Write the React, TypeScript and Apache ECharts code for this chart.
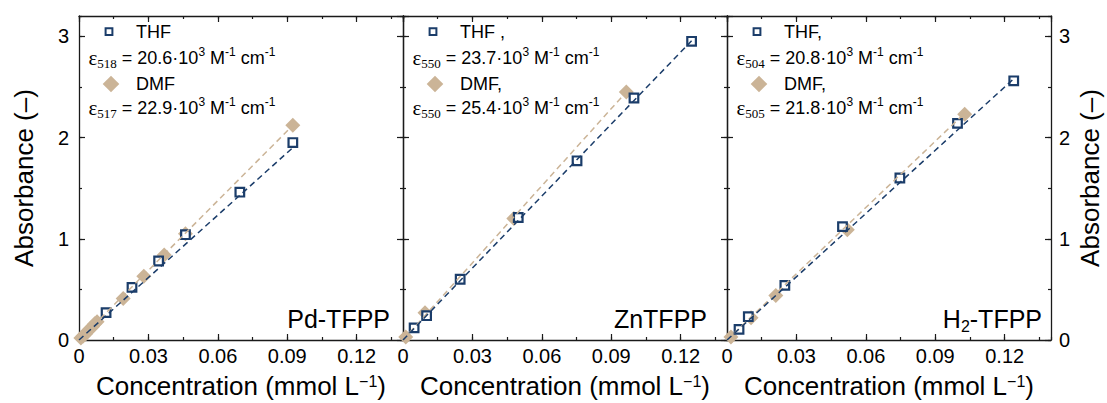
import React, { useEffect, useRef } from "react";
import * as echarts from "echarts";

// ---------- data ----------
const panelNames = ["Pd-TFPP", "ZnTFPP", "H2-TFPP"];
const thfLabels = ["THF", "THF ,", "THF,"];
const dmfLabels = ["DMF", "DMF,", "DMF,"];
const thfLambda = ["518", "550", "504"];
const dmfLambda = ["517", "550", "505"];
const thfEps = ["20.6", "23.7", "20.8"];
const dmfEps = ["22.9", "25.4", "21.8"];

// Pd-TFPP
const pdThfX = [0.0117, 0.0229, 0.0344, 0.046, 0.0695, 0.0924];
const pdThfY = [0.27, 0.52, 0.78, 1.04, 1.46, 1.95];
const pdDmfX = [0.0008, 0.0018, 0.0028, 0.0038, 0.0048, 0.0058, 0.0068, 0.0078, 0.0191, 0.028, 0.0368, 0.046, 0.0924];
const pdDmfY = [0.02, 0.04, 0.06, 0.09, 0.11, 0.13, 0.16, 0.18, 0.41, 0.63, 0.84, 1.05, 2.12];
const pdThfFit = [[0, 0], [0.0924, 1.9]];
const pdDmfFit = [[0, 0], [0.0924, 2.12]];

// ZnTFPP
const znThfX = [0.0048, 0.0102, 0.0247, 0.0498, 0.0752, 0.0998, 0.1247];
const znThfY = [0.12, 0.24, 0.6, 1.21, 1.77, 2.39, 2.95];
const znDmfX = [0.0012, 0.0095, 0.0479, 0.0965];
const znDmfY = [0.03, 0.27, 1.2, 2.45];
const znThfFit = [[0, 0], [0.1247, 2.955]];
const znDmfFit = [[0, 0], [0.0965, 2.45]];

// H2-TFPP
const h2ThfX = [0.0052, 0.0092, 0.025, 0.0499, 0.0747, 0.0996, 0.1239];
const h2ThfY = [0.105, 0.23, 0.54, 1.12, 1.6, 2.14, 2.56];
const h2DmfX = [0.0017, 0.0104, 0.0211, 0.052, 0.1027];
const h2DmfY = [0.03, 0.22, 0.44, 1.09, 2.23];
const h2ThfFit = [[0, 0], [0.1239, 2.58]];
const h2DmfFit = [[0, 0], [0.1027, 2.24]];

const thfX = [pdThfX, znThfX, h2ThfX];
const thfY = [pdThfY, znThfY, h2ThfY];
const dmfX = [pdDmfX, znDmfX, h2DmfX];
const dmfY = [pdDmfY, znDmfY, h2DmfY];
const thfFit = [pdThfFit, znThfFit, h2ThfFit];
const dmfFit = [pdDmfFit, znDmfFit, h2DmfFit];

const X_MIN = 0, X_MAX = 0.14, X_MAJOR = 0.03, X_MINOR = 0.015;
const Y_MIN = 0, Y_MAX = 3.2, Y_MAJOR = 1, Y_MINOR = 0.5;

// ---------- style ----------
const NAVY = "#1b3d6a";
const TAN = "#cbb497";
const SANS = "'Liberation Sans', Arial, sans-serif";
const SERIF = "'Liberation Serif', 'Times New Roman', serif";
const AXIS_COLOR = "#1a1a1a";

const GRID_LEFTS = [79, 403, 727];
const GRID_TOP = 16;
const GRID_W = 324;
const GRID_H = 324;

const zip = (xs: number[], ys: number[]) => xs.map((x, i) => [x, ys[i]]);

function buildOption() {
  const grid: any[] = [];
  const xAxis: any[] = [];
  const yAxis: any[] = [];
  const series: any[] = [];
  const graphic: any[] = [];

  const lineStyle = { color: AXIS_COLOR, width: 1.3 };

  for (let i = 0; i < 3; i++) {
    const left = GRID_LEFTS[i];
    grid.push({ left, top: GRID_TOP, width: GRID_W, height: GRID_H, outerBoundsMode: "none", containLabel: false });

    const xBase = (pos: string, major: boolean, labels: boolean) => ({
      type: "value",
      gridIndex: i,
      position: pos,
      min: X_MIN,
      max: X_MAX,
      interval: major ? X_MAJOR : X_MINOR,
      axisLine: { show: major, onZero: false, lineStyle },
      axisTick: { show: true, inside: true, length: major ? 6 : 3, lineStyle: { color: AXIS_COLOR, width: 1.2 } },
      axisLabel: {
        show: labels,
        showMaxLabel: false,
        margin: 6,
        fontSize: 20,
        fontFamily: SANS,
        color: "#000",
        formatter: (v: number) => {
          const k = v / X_MAJOR;
          if (Math.abs(k - Math.round(k)) > 1e-6) return "";
          return String(Math.round(k) * 3 / 100);
        },
      },
      splitLine: { show: false },
      ...(labels
        ? {
            name: "Concentration (mmol L{p|−1})",
            nameLocation: "middle",
            nameGap: 33,
            nameTextStyle: {
              fontSize: 26,
              fontFamily: SANS,
              color: "#000",
              rich: { p: { fontSize: 16, fontFamily: SANS, color: "#000", verticalAlign: "top" } },
            },
          }
        : {}),
    });
    xAxis.push(xBase("bottom", true, true));
    xAxis.push(xBase("bottom", false, false));
    xAxis.push(xBase("top", true, false));
    xAxis.push(xBase("top", false, false));

    const yBase = (pos: string, major: boolean, labels: boolean) => ({
      type: "value",
      gridIndex: i,
      position: pos,
      min: Y_MIN,
      max: Y_MAX,
      interval: major ? Y_MAJOR : Y_MINOR,
      axisLine: { show: major, onZero: false, lineStyle },
      axisTick: { show: true, inside: true, length: major ? 6 : 3, lineStyle: { color: AXIS_COLOR, width: 1.2 } },
      axisLabel: {
        show: labels,
        showMaxLabel: false,
        margin: pos === "left" ? 10 : 8,
        fontSize: 20,
        fontFamily: SANS,
        color: "#000",
        formatter: (v: number) => (Math.abs(v - Math.round(v)) > 1e-6 ? "" : String(Math.round(v))),
      },
      splitLine: { show: false },
      ...(labels
        ? {
            name: "Absorbance (–)",
            nameLocation: "middle",
            nameGap: pos === "left" ? 42 : 26,
            nameTextStyle: { fontSize: 26, fontFamily: SANS, color: "#000" },
          }
        : {}),
    });
    yAxis.push(yBase("left", true, i === 0));
    yAxis.push(yBase("left", false, false));
    yAxis.push(yBase("right", true, i === 2));
    yAxis.push(yBase("right", false, false));

    const xi = 4 * i;
    const yi = 4 * i;
    series.push({
      type: "scatter",
      name: "DMF",
      xAxisIndex: xi,
      yAxisIndex: yi,
      data: zip(dmfX[i], dmfY[i]),
      symbol: "diamond",
      symbolSize: 15,
      itemStyle: { color: TAN, opacity: 1 },
      clip: true,
      z: 2,
      silent: true,
    });
    series.push({
      type: "scatter",
      name: "THF",
      xAxisIndex: xi,
      yAxisIndex: yi,
      data: zip(thfX[i], thfY[i]),
      symbol: "rect",
      symbolSize: 8.6,
      itemStyle: { color: "#fff", borderColor: NAVY, borderWidth: 2.2, opacity: 1 },
      clip: true,
      z: 3,
      silent: true,
    });
    series.push({
      type: "line",
      xAxisIndex: xi,
      yAxisIndex: yi,
      data: dmfFit[i],
      showSymbol: false,
      symbol: "none",
      lineStyle: { color: TAN, width: 1.5, type: [6, 4] },
      z: 4,
      silent: true,
    });
    series.push({
      type: "line",
      xAxisIndex: xi,
      yAxisIndex: yi,
      data: thfFit[i],
      showSymbol: false,
      symbol: "none",
      lineStyle: { color: NAVY, width: 1.5, type: [6, 4] },
      z: 5,
      silent: true,
    });

    // ---- legend-like annotations ----
    const epsRich = {
      e: { fontFamily: SERIF, fontSize: 21, color: "#000", lineHeight: 24 },
      s: { fontFamily: SERIF, fontSize: 13, color: "#000", verticalAlign: "bottom" },
      n: { fontFamily: SANS, fontSize: 18, color: "#000", lineHeight: 24 },
      p: { fontFamily: SANS, fontSize: 12, color: "#000", verticalAlign: "top" },
    };
    const epsText = (lam: string, val: string) =>
      `{e|ε}{s|${lam}}{n| = ${val}·10}{p|3}{n| M}{p|-1}{n| cm}{p|-1}`;

    graphic.push({
      type: "rect",
      shape: { x: left + 30 - 3.4, y: 31.7 - 3.4, width: 6.8, height: 6.8 },
      style: { fill: "#fff", stroke: NAVY, lineWidth: 2 },
      z: 10,
    });
    graphic.push({
      type: "text",
      x: left + 57,
      y: 32,
      style: { text: thfLabels[i], fontFamily: SANS, fontSize: 18, fill: "#000", align: "left", verticalAlign: "middle" },
      z: 10,
    });
    graphic.push({
      type: "text",
      x: left + 9.5,
      y: 58,
      style: { text: epsText(thfLambda[i], thfEps[i]), rich: epsRich, align: "left", verticalAlign: "middle" },
      z: 10,
    });
    const cx = left + 32, cy = 84, r = 8.3;
    graphic.push({
      type: "polygon",
      shape: { points: [[cx, cy - r], [cx + r, cy], [cx, cy + r], [cx - r, cy]] },
      style: { fill: TAN },
      z: 10,
    });
    graphic.push({
      type: "text",
      x: left + 57,
      y: 84,
      style: { text: dmfLabels[i], fontFamily: SANS, fontSize: 18, fill: "#000", align: "left", verticalAlign: "middle" },
      z: 10,
    });
    graphic.push({
      type: "text",
      x: left + 9.5,
      y: 108,
      style: { text: epsText(dmfLambda[i], dmfEps[i]), rich: epsRich, align: "left", verticalAlign: "middle" },
      z: 10,
    });
  }

  // panel names
  const nameRight = [390, 707, 1042];
  graphic.push({
    type: "text",
    x: nameRight[0],
    y: 319,
    style: { text: panelNames[0], fontFamily: SANS, fontSize: 25, fill: "#000", align: "right", verticalAlign: "middle" },
    z: 10,
  });
  graphic.push({
    type: "text",
    x: nameRight[1],
    y: 319,
    style: { text: panelNames[1], fontFamily: SANS, fontSize: 25, fill: "#000", align: "right", verticalAlign: "middle" },
    z: 10,
  });
  graphic.push({
    type: "text",
    x: nameRight[2],
    y: 319,
    style: {
      text: "{n|H}{s|2}{n|-TFPP}",
      rich: {
        n: { fontFamily: SANS, fontSize: 25, color: "#000", lineHeight: 30 },
        s: { fontFamily: SANS, fontSize: 16, color: "#000", verticalAlign: "bottom" },
      },
      align: "right",
      verticalAlign: "middle",
    },
    z: 10,
  });

  return {
    animation: false,
    backgroundColor: "#fff",
    textStyle: { fontFamily: SANS },
    grid,
    xAxis,
    yAxis,
    series,
    graphic,
  };
}

export default function App() {
  const ref = useRef<HTMLDivElement>(null);
  useEffect(() => {
    if (!ref.current) return;
    const chart = echarts.init(ref.current, null, { renderer: "svg" });
    chart.setOption(buildOption() as any);
    return () => chart.dispose();
  }, []);
  return (
    <div
      ref={ref}
      style={{ position: "absolute", left: 0, top: 0, width: 1107, height: 403, background: "#fff" }}
    />
  );
}
